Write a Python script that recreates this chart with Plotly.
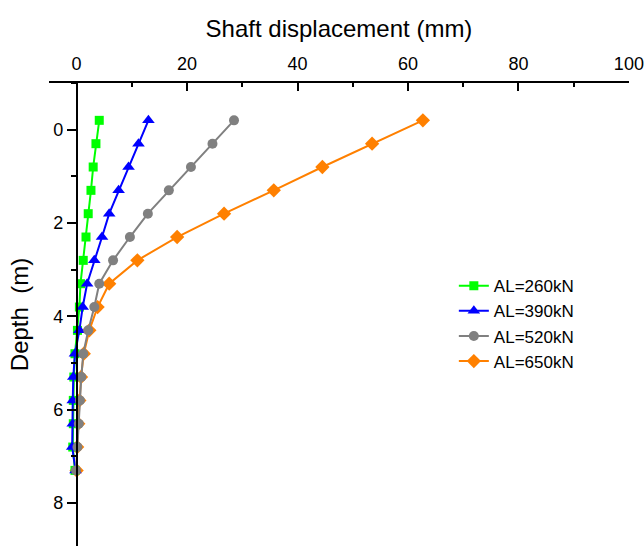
import plotly.graph_objects as go

# Depth of measurement points along the shaft (m)
depth = [-0.2, 0.3, 0.8, 1.3, 1.8, 2.3, 2.8, 3.3, 3.8, 4.3, 4.8, 5.3, 5.8, 6.3, 6.8, 7.3]

# Shaft displacement (mm) for each axial load level
disp_260 = [4.1, 3.5, 3.0, 2.6, 2.1, 1.7, 1.2, 0.7, 0.5, 0.15, -0.3, -0.5, -0.6, -0.6, -0.7, -0.3]
disp_390 = [13.0, 11.2, 9.4, 7.6, 5.9, 4.6, 3.2, 1.9, 1.1, 0.5, -0.3, -0.6, -0.7, -0.7, -0.8, -0.2]
disp_520 = [28.5, 24.6, 20.7, 16.7, 12.9, 9.65, 6.6, 4.1, 3.2, 2.1, 1.2, 0.85, 0.6, 0.4, 0.15, -0.1]
disp_650 = [62.7, 53.5, 44.5, 35.7, 26.7, 18.2, 11.0, 5.9, 3.8, 2.3, 1.3, 0.8, 0.5, 0.3, 0.1, 0.0]

series_names = ["AL=260kN", "AL=390kN", "AL=520kN", "AL=650kN"]
series_vals = [disp_260, disp_390, disp_520, disp_650]
series_colors = ["#00FF00", "#0000FF", "#808080", "#FF8000"]
series_symbols = ["square", "triangle-up", "circle", "diamond"]
series_sizes = [9, 11, 10, 11]

# draw order: orange underneath, gray on top
draw_order = [3, 0, 1, 2]

fig = go.Figure()
for i in draw_order:
    fig.add_trace(go.Scatter(
        x=series_vals[i], y=depth, name=series_names[i],
        mode="lines+markers",
        line=dict(color=series_colors[i], width=2),
        marker=dict(symbol=series_symbols[i], size=series_sizes[i],
                    color=series_colors[i]),
        legendrank=i + 1,
    ))

font_family = "Liberation Sans, Arial, sans-serif"

fig.update_layout(
    width=644, height=546,
    margin=dict(l=49, r=13, t=83, b=0),
    paper_bgcolor="white", plot_bgcolor="white",
    font=dict(family=font_family, color="black"),
    showlegend=True,
    legend=dict(x=0.698, y=0.6, xanchor="left", yanchor="top",
                bgcolor="rgba(0,0,0,0)", font=dict(size=17),
                tracegroupgap=0, itemwidth=30),
    xaxis=dict(
        side="top", range=[-5, 100.02], dtick=20, tick0=0,
        showline=True, linecolor="black", linewidth=1.5,
        ticks="inside", ticklen=8, tickwidth=1.5, tickcolor="black",
        minor=dict(dtick=10, tick0=0, ticks="inside", ticklen=4,
                   tickwidth=1.5, tickcolor="black"),
        showgrid=False, zeroline=False,
        tickfont=dict(size=18), ticklabelstandoff=4,
        ticklabeloverflow="allow",
        title=dict(text="Shaft displacement (mm)", font=dict(size=24),
                   standoff=10),
    ),
    yaxis=dict(
        range=[8.92, -1], dtick=2, tick0=0,
        anchor="free", position=5 / 105,
        showline=True, linecolor="black", linewidth=1.5,
        ticks="outside", ticklen=9, tickwidth=1.5, tickcolor="black",
        minor=dict(dtick=1, tick0=0, ticks="outside", ticklen=5,
                   tickwidth=1.5, tickcolor="black"),
        showgrid=False, zeroline=False,
        tickfont=dict(size=18),
        title=dict(text="Depth  (m)", font=dict(size=24), standoff=17),
    ),
)

fig.write_html("out.html")
